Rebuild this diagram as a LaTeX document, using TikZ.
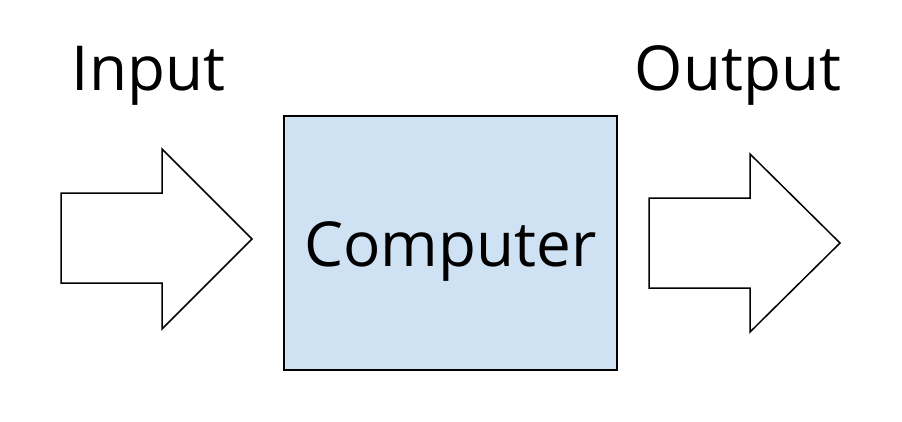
\documentclass[tikz,border=0pt]{standalone}
\usepackage{fontspec}
\setmainfont{Open Sans}
\definecolor{boxblue}{HTML}{CFE2F3}
\begin{document}
\begin{tikzpicture}[x=1pt,y=-1pt,
  blockarrow/.style={draw=black,fill=white,line width=1.5pt,line join=miter},
  lbl/.style={inner sep=0pt,anchor=base,font=\fontsize{62}{64}\selectfont}]
\useasboundingbox (0,0) rectangle (902,421);
\fill[white] (0,0) rectangle (902,421);
% input arrow
\draw[blockarrow] (61,193) -- (162,193) -- (162,149) -- (252,239) -- (162,329) -- (162,283) -- (61,283) -- cycle;
% computer box
\node[draw=black,fill=boxblue,line width=1.5pt,minimum width=333pt,minimum height=254pt,inner sep=0pt] (comp) at (450.5,243) {};
\node[lbl] (comptext) at (450.5,266) {Computer};
% output arrow
\draw[blockarrow] (649,198) -- (750,198) -- (750,154) -- (840,243) -- (750,332) -- (750,288) -- (649,288) -- cycle;
\node[lbl] (input) at (148.5,90) {Input};
\node[lbl] (output) at (738,90) {Output};
\end{tikzpicture}
\end{document}
